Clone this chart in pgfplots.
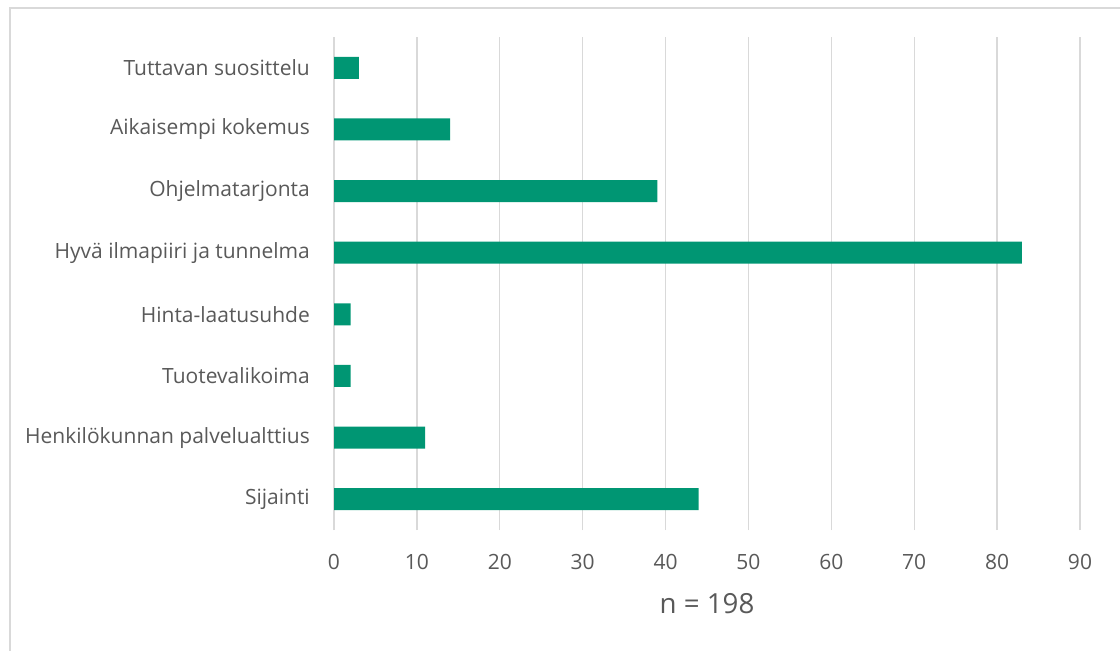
\documentclass[border=0pt]{standalone}
\usepackage{fontspec}
\setmainfont{Open Sans}
\usepackage{pgfplots}
\pgfplotsset{compat=1.18}
\definecolor{barc}{HTML}{009673}
\definecolor{txt}{HTML}{595959}
\definecolor{grd}{HTML}{D9D9D9}
\definecolor{frm}{HTML}{D9D9D9}
\begin{document}
\begin{tikzpicture}
\path[use as bounding box] (0,0) rectangle (1120bp,651bp);
\draw[frm, line width=1.5bp] (10bp,0) -- (10bp,643bp) -- (1120bp,643bp);
\begin{axis}[
  at={(334bp,121bp)}, anchor=south west,
  scale only axis,
  width=746bp, height=493bp,
  xbar, bar width=22bp,
  xmin=0, xmax=90, ymin=-0.5, ymax=7.5,
  xtick={0,10,...,90},
  ytick={0,...,7},
  yticklabels={Sijainti,Henkilökunnan palvelualttius,Tuotevalikoima,Hinta-laatusuhde,Hyvä ilmapiiri ja tunnelma,Ohjelmatarjonta,Aikaisempi kokemus,Tuttavan suosittelu},
  axis line style={draw=none},
  major tick length=0pt,
  xmajorgrids, grid style={grd, line width=1.3bp},
  /pgf/number format/assume math mode=true,
  tick label style={txt, font=\fontsize{21bp}{25bp}\selectfont},
  xticklabel style={anchor=north, inner sep=0pt, yshift=-24bp},
  yticklabel style={anchor=east, inner sep=0pt, xshift=-24bp},
  xlabel={n = 198},
  xlabel style={at={(axis description cs:0.5,0)}, anchor=base, yshift=-83bp, txt, font=\fontsize{27.7bp}{33bp}\selectfont},
]
\addplot[fill=barc, draw=none] coordinates {(44,0) (11,1) (2,2) (2,3) (83,4) (39,5) (14,6) (3,7)};
\end{axis}
\end{tikzpicture}
\end{document}
